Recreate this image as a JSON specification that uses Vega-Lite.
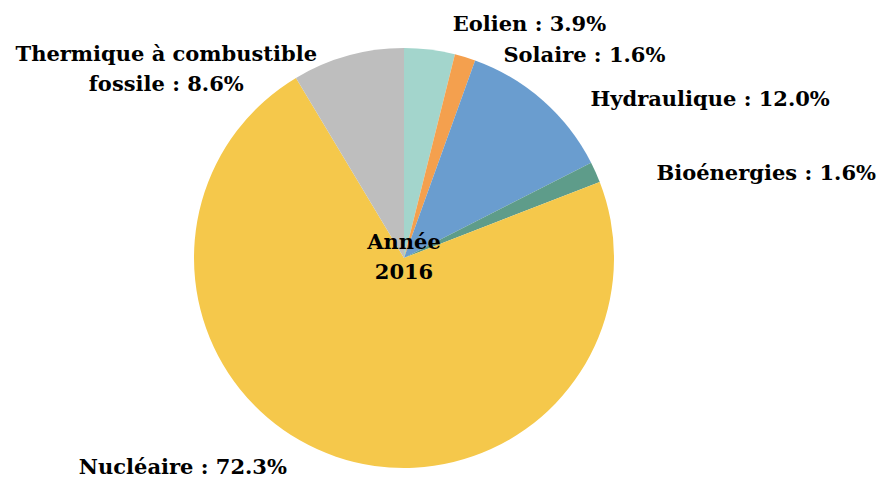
{
  "$schema": "https://vega.github.io/schema/vega-lite/v6.json",
  "width": 808,
  "height": 446,
  "autosize": {"type": "none"},
  "padding": {"left": 0, "top": 35, "right": 72, "bottom": 0},
  "background": "white",
  "config": {
    "view": {"stroke": null},
    "text": {"font": "DejaVu Serif", "fontWeight": "bold", "fontSize": 21, "color": "#000000", "lineBreak": "\n", "lineHeight": 30}
  },
  "data": {
    "values": [
      {"i": 1, "source": "Eolien", "pct": 3.9, "label": "Eolien : 3.9%"},
      {"i": 2, "source": "Solaire", "pct": 1.6, "label": "Solaire : 1.6%"},
      {"i": 3, "source": "Hydraulique", "pct": 12.0, "label": "Hydraulique : 12.0%"},
      {"i": 4, "source": "Bioénergies", "pct": 1.6, "label": "Bioénergies : 1.6%"},
      {"i": 5, "source": "Nucléaire", "pct": 72.3, "label": "Nucléaire : 72.3%"},
      {"i": 6, "source": "Thermique", "pct": 8.6, "label": "Thermique à combustible\nfossile : 8.6%"}
    ]
  },
  "encoding": {
    "theta": {"field": "pct", "type": "quantitative", "stack": true},
    "order": {"field": "i", "type": "quantitative"}
  },
  "layer": [
    {
      "mark": {"type": "arc", "outerRadius": 210},
      "encoding": {
        "color": {
          "field": "source", "type": "nominal", "legend": null,
          "scale": {
            "domain": ["Eolien", "Solaire", "Hydraulique", "Bioénergies", "Nucléaire", "Thermique"],
            "range": ["#A3D5CC", "#F4A04E", "#6A9DCF", "#5E9C8A", "#F5C84B", "#BEBEBE"]
          }
        }
      }
    },
    {
      "mark": {"type": "text", "radius": 235, "align": "left", "baseline": "middle", "dx": 20, "dy": 0},
      "encoding": {"text": {"condition": {"test": "datum.source === 'Eolien'", "field": "label"}, "value": ""}}
    },
    {
      "mark": {"type": "text", "radius": 235, "align": "left", "baseline": "middle", "dx": 31, "dy": 23},
      "encoding": {"text": {"condition": {"test": "datum.source === 'Solaire'", "field": "label"}, "value": ""}}
    },
    {
      "mark": {"type": "text", "radius": 235, "align": "left", "baseline": "middle", "dx": 31, "dy": 18},
      "encoding": {"text": {"condition": {"test": "datum.source === 'Hydraulique'", "field": "label"}, "value": ""}}
    },
    {
      "mark": {"type": "text", "radius": 235, "align": "left", "baseline": "middle", "dx": 38, "dy": 12},
      "encoding": {"text": {"condition": {"test": "datum.source === 'Bioénergies'", "field": "label"}, "value": ""}}
    },
    {
      "mark": {"type": "text", "radius": 235, "align": "right", "baseline": "middle", "dx": -41, "dy": -12},
      "encoding": {"text": {"condition": {"test": "datum.source === 'Nucléaire'", "field": "label"}, "value": ""}}
    },
    {
      "mark": {"type": "text", "radius": 235, "align": "center", "baseline": "middle", "dx": -175, "dy": 23},
      "encoding": {"text": {"condition": {"test": "datum.source === 'Thermique'", "field": "label"}, "value": ""}}
    },
    {
      "mark": {"type": "text", "radius": 0, "align": "center", "baseline": "middle", "dy": -15},
      "encoding": {"text": {"condition": {"test": "datum.i === 1", "value": "Année\n2016"}, "value": ""}}
    }
  ]
}
